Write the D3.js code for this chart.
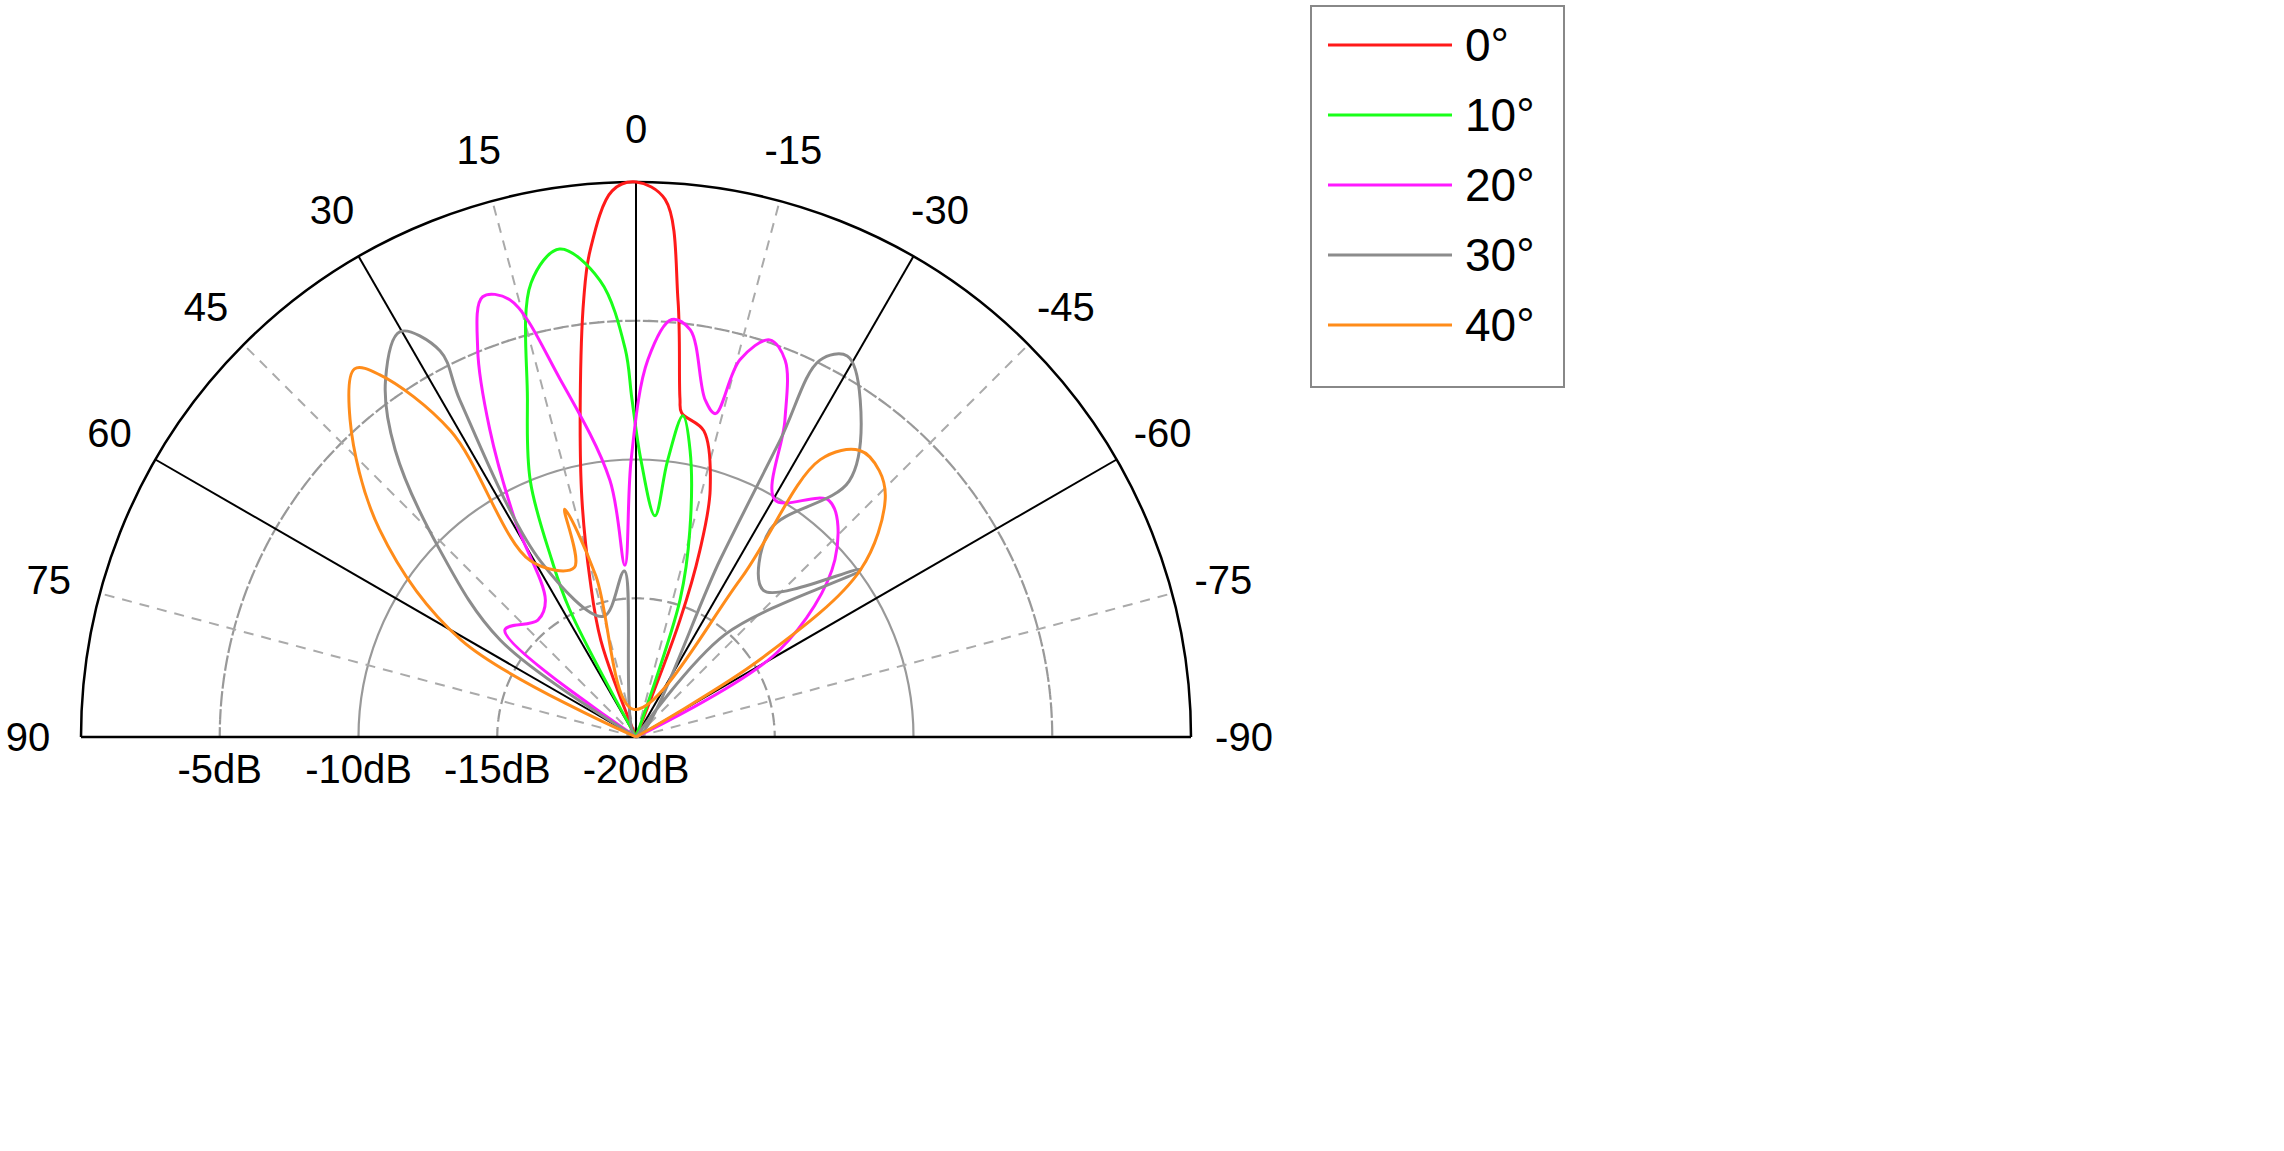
<!DOCTYPE html>
<html><head><meta charset="utf-8">
<script src="https://cdn.jsdelivr.net/npm/d3@7"></script>
<style>body{margin:0;background:#fff}</style></head>
<body><svg id="c" width="2284" height="1151"></svg>
<script>
const seriesNames = ["0°","10°","20°","30°","40°"];
const seriesColors = ["#ff1a1a","#1aff1a","#ff1aff","#8c8c8c","#ff8c1a"];
const angleTicks = [90,75,60,45,30,15,0,-15,-30,-45,-60,-75,-90];
const dbTicks = [-5,-10,-15,-20];
// [angle deg (positive = left), level dB]
const s0 = [[22,-20],[20,-16.3],[16.3,-14.1],[12.8,-11.2],[9.4,-7.7],[6.8,-4.1],[5.4,-2.4],[2.5,-0.3],[0,0],[-3.1,-0.6],[-5.5,-4.2],[-7.4,-7.7],[-8,-8.2],[-12.5,-8.7],[-16.7,-10.7],[-18.9,-12.9],[-20.6,-15.5],[-22,-20]];
const s10 = [[30,-20],[27.5,-14.8],[25.4,-12.9],[22.4,-10],[17.8,-7.2],[13,-3.2],[8.9,-2.2],[4.5,-3.5],[1.6,-6],[0.7,-7.8],[-1,-10],[-4.9,-12],[-6.5,-10],[-8.3,-8.3],[-10.7,-9.5],[-14.6,-12.3],[-17.8,-14.8],[-20,-20]];
const s20 = [[55,-20],[50.8,-13.9],[40,-14.5],[33.6,-14.1],[29.1,-11],[25.4,-7.7],[22.2,-4.9],[19.2,-3.2],[16.1,-3.6],[12,-6.8],[5.8,-10.7],[3.7,-13.8],[1,-10],[-1.8,-6.4],[-4.9,-4.9],[-7.6,-5.2],[-11.6,-7.6],[-13.8,-8],[-15.4,-5.9],[-18.6,-4.9],[-21.6,-5.4],[-25.2,-7.4],[-30.4,-10.1],[-39.3,-9],[-48.3,-10.4],[-58.9,-14],[-62,-20]];
const s30 = [[58,-20],[54.5,-14],[46.3,-10.2],[40,-6.5],[35.1,-4.3],[30.2,-3.1],[26.9,-4.4],[27.6,-6.3],[28.5,-12.8],[15,-15.5],[4,-14],[0,-20],[-25.4,-12.9],[-25.9,-8.1],[-26,-4.9],[-29,-4.3],[-33.6,-5.4],[-39.8,-8],[-32.9,-11.1],[-41,-13],[-53.3,-9.9],[-41,-15.1],[-60,-20]];
const s40 = [[64,-20],[61,-12.8],[51,-8.1],[42,-4.6],[37.4,-3.3],[35.3,-4],[31.2,-7.1],[30.9,-12.6],[20,-13.5],[17.4,-11.4],[14,-14],[5,-19],[-33.5,-13.2],[-33.6,-8],[-38,-6.9],[-42.4,-7],[-46.4,-7.6],[-53.3,-9.9],[-58,-14.7],[-62,-20]];
const seriesData = [s0,s10,s20,s30,s40];

const svg = d3.select("#c");
const cx = 636, cy = 737, R = 555;
const r = d3.scaleLinear().domain([-20,0]).range([0,R]);
const g = svg.append("g").attr("transform",`translate(${cx},${cy})`);
const toRad = d => -d*Math.PI/180;
[[-5,"dash"],[-10,"solid"],[-15,"dash"]].forEach(([v,t])=>{
  g.append("path").attr("d",d3.arc().innerRadius(r(v)).outerRadius(r(v)).startAngle(-Math.PI/2).endAngle(Math.PI/2)())
   .attr("fill","none").attr("stroke","#999").attr("stroke-width",2.2).attr("stroke-dasharray",t=="dash"?"10,8":null);
});
angleTicks.forEach(a=>{
  if (Math.abs(a)==90) return;
  const solid = a%30==0;
  const th = toRad(a);
  g.append("line").attr("x1",0).attr("y1",0).attr("x2",R*Math.sin(th)).attr("y2",-R*Math.cos(th))
   .attr("stroke",solid?"#000":"#aaa").attr("stroke-width",2).attr("stroke-dasharray",solid?null:"10,8");
});
g.append("path").attr("d",d3.arc().innerRadius(R).outerRadius(R).startAngle(-Math.PI/2).endAngle(Math.PI/2)())
 .attr("fill","none").attr("stroke","#000").attr("stroke-width",2.5);
g.append("line").attr("x1",-R).attr("x2",R).attr("y1",0).attr("y2",0).attr("stroke","#000").attr("stroke-width",2.5);
const line = d3.lineRadial().angle(d=>toRad(d[0])).radius(d=>r(d[1])).curve(d3.curveCatmullRom.alpha(0.5));
seriesData.forEach((d,i)=>{
  g.append("path").attr("d",line(d)).attr("fill","none").attr("stroke",seriesColors[i]).attr("stroke-width",3);
});
angleTicks.forEach(a=>{
  const th = toRad(a), rl = 608;
  g.append("text").attr("x",rl*Math.sin(th)).attr("y",-rl*Math.cos(th)).attr("text-anchor","middle").attr("dominant-baseline","central")
   .attr("font-family","Liberation Sans, Arial").attr("font-size",40).text(a);
});
dbTicks.forEach(v=>{
  g.append("text").attr("x",-r(v)).attr("y",46).attr("text-anchor","middle")
   .attr("font-family","Liberation Sans, Arial").attr("font-size",40).text(v+"dB");
});
const lg = svg.append("g");
lg.append("rect").attr("x",1311).attr("y",6).attr("width",253).attr("height",381).attr("fill","#fff").attr("stroke","#888").attr("stroke-width",2);
seriesNames.forEach((n,i)=>{
  const y = 45 + i*70;
  lg.append("line").attr("x1",1328).attr("x2",1452).attr("y1",y).attr("y2",y).attr("stroke",seriesColors[i]).attr("stroke-width",3);
  lg.append("text").attr("x",1465).attr("y",y).attr("dominant-baseline","central").attr("font-family","Liberation Sans, Arial").attr("font-size",46).text(n);
});
</script></body></html>
